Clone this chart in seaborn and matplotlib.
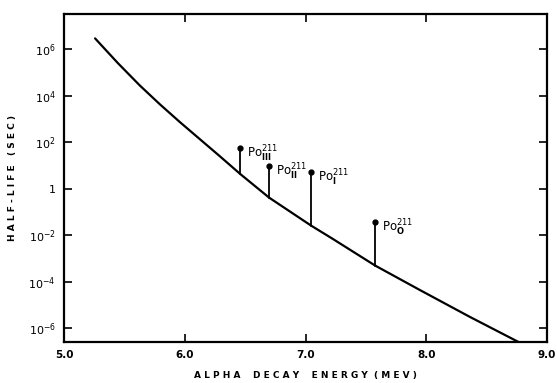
import matplotlib
matplotlib.use("Agg")
import matplotlib.pyplot as plt
import seaborn as sns
import pandas as pd
from matplotlib.ticker import FixedLocator, NullFormatter

# Curve: alpha decay energy (MeV) vs half-life (s)
curve_energy = [5.257, 5.446, 5.628, 5.793, 5.959, 6.124, 6.289, 6.458, 6.698,
                7.046, 7.219, 7.576, 7.948, 8.362, 8.776]
curve_halflife = [2.9e6, 2.5e5, 2.72e4, 4.27e3, 7.3e2, 1.35e2, 25, 4.3, 0.41,
                  0.0256, 7.2e-3, 4.9e-4, 4.3e-5, 3.0e-6, 2.33e-7]

# Po-211 levels: measured points with stems down to the curve
po_labels = ["III", "II", "I", "O"]
po_energy = [6.458, 6.698, 7.046, 7.576]
po_top = [54, 9.3, 5.0, 0.036]
po_bottom = [4.3, 0.41, 0.0256, 4.9e-4]

x_ticks = [5.0, 6.0, 7.0, 8.0, 9.0]
x_ticklabels = ["5.0", "6.0", "7.0", "8.0", "9.0"]
y_ticks = [1e6, 1e4, 1e2, 1, 1e-2, 1e-4, 1e-6]
y_ticklabels = [r"$10^6$", r"$10^4$", r"$10^2$", "1", r"$10^{-2}$", r"$10^{-4}$", r"$10^{-6}$"]

sns.set_style("ticks")
plt.rcParams["font.family"] = ["DejaVu Sans"]
plt.rcParams["text.color"] = "black"
plt.rcParams["axes.labelcolor"] = "black"
plt.rcParams["xtick.color"] = "black"
plt.rcParams["ytick.color"] = "black"

fig = plt.figure(figsize=(5.57, 3.83), dpi=100)
ax = fig.add_axes([0.115, 0.107, 0.867, 0.856])

df = pd.DataFrame({"energy": curve_energy, "halflife": curve_halflife})
sns.lineplot(data=df, x="energy", y="halflife", ax=ax, color="black", linewidth=1.6, sort=True)

for lab, e, top, bot in zip(po_labels, po_energy, po_top, po_bottom):
    ax.plot([e, e], [bot, top], color="black", linewidth=1.3)
    ax.plot([e], [top], marker="o", markersize=3.5, color="black")
    ax.annotate(r"$\mathrm{Po}_{\mathbf{%s}}^{211}$" % lab, xy=(e, top), xytext=(5, -4),
                textcoords="offset points", fontsize=8.5, ha="left", va="center",
                color="black")

ax.set_yscale("log")
ax.set_xlim(5.0, 9.0)
ax.set_ylim(2.5e-7, 3.2e7)
ax.set_xticks(x_ticks)
ax.set_xticklabels(x_ticklabels, fontsize=7.5, fontweight="bold")
ax.yaxis.set_major_locator(FixedLocator(y_ticks))
ax.yaxis.set_minor_locator(FixedLocator([1]))
ax.yaxis.set_minor_formatter(NullFormatter())
ax.set_yticklabels(y_ticklabels, fontsize=8)
ax.tick_params(axis="both", which="major", direction="in", length=6, width=1.2,
               top=True, right=True, pad=6)
ax.tick_params(axis="y", which="minor", direction="in", length=12, width=1.2,
               left=True, right=False)

for s in ax.spines.values():
    s.set_linewidth(1.6)
    s.set_color("black")

ax.set_xlabel("A L P H A    D E C A Y    E N E R G Y  ( M E V )", fontsize=6.5,
              fontweight="bold", labelpad=8)
ax.set_ylabel("H A L F - L I F E   ( S E C )", fontsize=6.5, fontweight="bold", labelpad=8)

fig.savefig("out.png", dpi=100)
